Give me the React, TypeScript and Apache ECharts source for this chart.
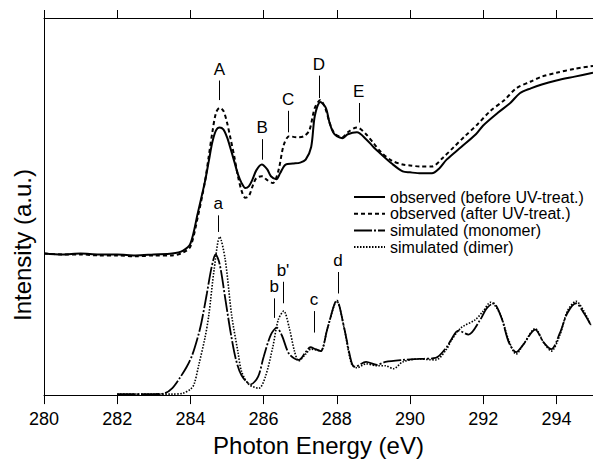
import React, { useEffect, useRef } from "react";
import * as echarts from "echarts";

// Photon energy (eV) and intensity (a.u.)
const obsBeforeE = [280.0, 280.5, 281.0, 281.5, 282.0, 282.5, 283.0, 283.5, 283.8, 284.0, 284.2, 284.4, 284.5, 284.6, 284.7, 284.8, 284.9, 285.0, 285.1, 285.2, 285.3, 285.4, 285.5, 285.6, 285.7, 285.8, 285.95, 286.1, 286.2, 286.35, 286.45, 286.6, 286.8, 287.0, 287.15, 287.3, 287.4, 287.55, 287.7, 287.8, 287.9, 288.0, 288.15, 288.3, 288.55, 288.8, 289.0, 289.2, 289.5, 289.8, 290.0, 290.3, 290.6, 290.8, 291.0, 291.4, 291.8, 292.0, 292.4, 292.74, 293.0, 293.3, 293.6, 294.0, 294.5, 295.0];
const obsBeforeI = [145, 144, 145, 144, 144, 143, 144, 145, 148, 155, 186, 219, 239, 259, 271, 274, 272, 264, 252, 239, 226, 217, 212, 214, 221, 230, 236, 231, 224, 221, 227, 236, 237, 238, 241, 254, 286, 300, 294, 279, 269, 265, 263, 267, 269, 262, 254, 247, 237, 229, 228, 227, 227, 232, 241, 254, 267, 276, 289, 299, 309, 314, 318, 322, 326, 330];

const obsAfterE = [280.0, 280.5, 281.0, 281.5, 282.0, 282.5, 283.0, 283.5, 283.8, 284.0, 284.2, 284.4, 284.5, 284.6, 284.7, 284.8, 284.9, 285.0, 285.1, 285.2, 285.3, 285.4, 285.5, 285.6, 285.7, 285.8, 285.95, 286.1, 286.25, 286.4, 286.55, 286.7, 286.9, 287.1, 287.25, 287.4, 287.55, 287.7, 287.8, 287.9, 288.0, 288.15, 288.3, 288.55, 288.8, 289.0, 289.2, 289.5, 289.8, 290.0, 290.3, 290.6, 290.9, 291.2, 291.5, 291.84, 292.2, 292.58, 292.9, 293.3, 293.6, 294.0, 294.5, 295.0];
const obsAfterI = [145, 144, 144, 143, 143, 142, 143, 143, 146, 152, 182, 219, 244, 269, 289, 294, 291, 279, 262, 244, 224, 209, 202, 204, 214, 222, 224, 220, 217, 229, 256, 265, 264, 265, 271, 294, 302, 292, 279, 270, 266, 264, 269, 274, 267, 258, 249, 240, 236, 235, 234, 234, 243, 254, 265, 277, 291, 302, 314, 321, 326, 330, 334, 337];

const monomerE = [282.0, 282.5, 283.0, 283.3, 283.5, 283.7, 283.9, 284.05, 284.2, 284.3, 284.45, 284.58, 284.69, 284.8, 284.96, 285.1, 285.24, 285.4, 285.65, 285.85, 286.0, 286.2, 286.36, 286.5, 286.7, 286.96, 287.15, 287.28, 287.42, 287.56, 287.75, 288.0, 288.2, 288.4, 288.5, 288.8, 289.1, 289.33, 289.8, 290.23, 290.7, 291.0, 291.13, 291.32, 291.6, 291.9, 292.1, 292.28, 292.5, 292.7, 292.9, 293.1, 293.42, 293.65, 293.86, 294.1, 294.3, 294.54, 294.75, 294.95];
const monomerI = [1, 1, 1, 2, 7, 17, 29, 41, 59, 74, 104, 131, 144, 134, 97, 64, 37, 20, 11, 19, 39, 62, 69, 61, 42, 36, 44, 49, 47, 45, 69, 97, 69, 34, 29, 34, 31, 34, 36, 37, 38, 49, 57, 66, 62, 76, 89, 94, 79, 54, 44, 52, 67, 54, 47, 64, 84, 94, 84, 71];

const dimerE = [282.0, 282.5, 283.0, 283.5, 283.8, 284.0, 284.1, 284.23, 284.4, 284.5, 284.65, 284.8, 284.95, 285.13, 285.3, 285.4, 285.6, 285.87, 286.05, 286.25, 286.4, 286.55, 286.7, 286.85, 286.96, 287.15, 287.3, 287.45, 287.56, 287.75, 288.0, 288.2, 288.4, 288.55, 288.8, 289.1, 289.33, 289.55, 289.8, 290.23, 290.7, 291.0, 291.13, 291.4, 291.78, 292.0, 292.2, 292.45, 292.7, 292.9, 293.1, 293.42, 293.65, 293.86, 294.1, 294.3, 294.54, 294.75, 294.95];
const dimerI = [1, 1, 1, 1, 2, 6, 11, 31, 59, 81, 129, 162, 139, 81, 44, 24, 11, 7, 19, 49, 77, 86, 69, 44, 35, 42, 47, 46, 45, 69, 96, 69, 32, 28, 32, 30, 30, 27, 34, 37, 36, 47, 56, 69, 77, 86, 95, 84, 56, 42, 52, 68, 54, 45, 62, 86, 96, 86, 71];

const seriesNames = [
  "observed (before UV-treat.)",
  "observed (after UV-treat.)",
  "simulated (monomer)",
  "simulated (dimer)",
];

// Peak markers: label, energy, bottom and top of the tick (intensity units)
const upperLabels = ["A", "B", "C", "D", "E"];
const upperEnergy = [284.79, 285.96, 286.67, 287.51, 288.6];
const upperLow = [302, 241, 269, 304, 279];
const upperHigh = [322, 262, 291, 327, 299];

const lowerLabels = ["a", "b", "b'", "c", "d"];
const lowerEnergy = [284.76, 286.29, 286.53, 287.38, 288.03];
const lowerLow = [167, 79, 94, 64, 104];
const lowerHigh = [184, 99, 116, 86, 126];

const xTicks = [280, 282, 284, 286, 288, 290, 292, 294];

const FONT = "'Liberation Sans', Arial, Helvetica, sans-serif";

function zip(xs: number[], ys: number[]) {
  return xs.map((x, i) => [x, ys[i]]);
}

function markers(labels: string[], e: number[], lo: number[], hi: number[]) {
  return labels.map((l, i) => [
    { name: l, coord: [e[i], lo[i]] },
    { name: l, coord: [e[i], hi[i]] },
  ]);
}

export default function App() {
  const ref = useRef<HTMLDivElement>(null);
  useEffect(() => {
    if (!ref.current) return;
    const chart = echarts.init(ref.current, undefined, { renderer: "svg" });
    const markLineBase = (data: any) => ({
      symbol: ["none", "none"],
      silent: true,
      animation: false,
      lineStyle: { color: "#000", width: 1, type: "solid" },
      label: {
        show: true,
        position: "end",
        formatter: "{b}",
        color: "#000",
        fontSize: 17,
        fontFamily: FONT,
        distance: 3,
      },
      emphasis: { disabled: true },
      data,
    });
    chart.setOption({
      animation: false,
      backgroundColor: "#fff",
      textStyle: { fontFamily: FONT, color: "#000" },
      grid: { left: 44, top: 18, width: 551, bottom: 58, containLabel: false },
      legend: {
        orient: "vertical",
        left: 353,
        top: 189,
        itemWidth: 31,
        itemHeight: 10,
        itemGap: 0.7,
        padding: 0,
        itemStyle: { color: "rgba(0,0,0,0)", borderColor: "rgba(0,0,0,0)", borderWidth: 0, opacity: 0 },
        textStyle: { fontSize: 16, fontFamily: FONT, color: "#000", padding: [0, 0, 0, 0] },
        data: seriesNames,
        selectedMode: false,
      },
      xAxis: [
        {
          type: "value",
          min: 280,
          max: 295,
          interval: 2,
          position: "bottom",
          name: "Photon Energy (eV)",
          nameLocation: "middle",
          nameGap: 33,
          nameTextStyle: { fontSize: 24, fontFamily: FONT, color: "#000" },
          axisLine: { show: true, onZero: false, lineStyle: { color: "#000", width: 1 } },
          axisTick: { show: true, length: 9, lineStyle: { color: "#000" } },
          axisLabel: {
            fontSize: 18,
            color: "#000",
            fontFamily: FONT,
            margin: 15,
            showMaxLabel: false,
            formatter: (v: number) => (xTicks.includes(v) ? String(v) : ""),
          },
          splitLine: { show: false },
        },
        {
          type: "value",
          min: 280,
          max: 295,
          interval: 2,
          position: "top",
          axisLine: { show: true, onZero: false, lineStyle: { color: "#000", width: 1 } },
          axisTick: { show: true, length: 8, lineStyle: { color: "#000" } },
          axisLabel: { show: false },
          splitLine: { show: false },
        },
      ],
      yAxis: {
        type: "value",
        min: 0,
        max: 386,
        axisLine: { show: true, lineStyle: { color: "#000", width: 1 } },
        axisTick: { show: false },
        axisLabel: { show: false },
        splitLine: { show: false },
      },
      graphic: [
        {
          type: "text",
          x: 22,
          y: 245,
          rotation: Math.PI / 2,
          style: {
            text: "Intensity (a.u.)",
            font: `24px ${FONT}`,
            fill: "#000",
            textAlign: "center",
            textVerticalAlign: "middle",
          },
        },
      ],
      series: [
        {
          name: seriesNames[0],
          type: "line",
          data: zip(obsBeforeE, obsBeforeI),
          showSymbol: false,
          symbol: "none",
          smooth: 0.3,
          lineStyle: { color: "#000", width: 2, type: "solid" },
          itemStyle: { color: "#000" },
          markLine: markLineBase(markers(upperLabels, upperEnergy, upperLow, upperHigh)),
          z: 4,
        },
        {
          name: seriesNames[1],
          type: "line",
          data: zip(obsAfterE, obsAfterI),
          showSymbol: false,
          symbol: "none",
          smooth: 0.3,
          lineStyle: { color: "#000", width: 2, type: [4, 3] },
          itemStyle: { color: "#000" },
          z: 3,
        },
        {
          name: seriesNames[2],
          type: "line",
          data: zip(monomerE, monomerI),
          showSymbol: false,
          symbol: "none",
          smooth: 0.3,
          lineStyle: { color: "#000", width: 1.8, type: [18, 2, 2, 2] },
          itemStyle: { color: "#000" },
          markLine: markLineBase(markers(lowerLabels, lowerEnergy, lowerLow, lowerHigh)),
          z: 4,
        },
        {
          name: seriesNames[3],
          type: "line",
          data: zip(dimerE, dimerI),
          showSymbol: false,
          symbol: "none",
          smooth: 0.3,
          lineStyle: { color: "#000", width: 1.6, type: [1.5, 1.5] },
          itemStyle: { color: "#000" },
          z: 3,
        },
      ],
    });
    return () => chart.dispose();
  }, []);
  return <div ref={ref} style={{ width: 593, height: 462, position: "absolute", left: 0, top: 0 }} />;
}
